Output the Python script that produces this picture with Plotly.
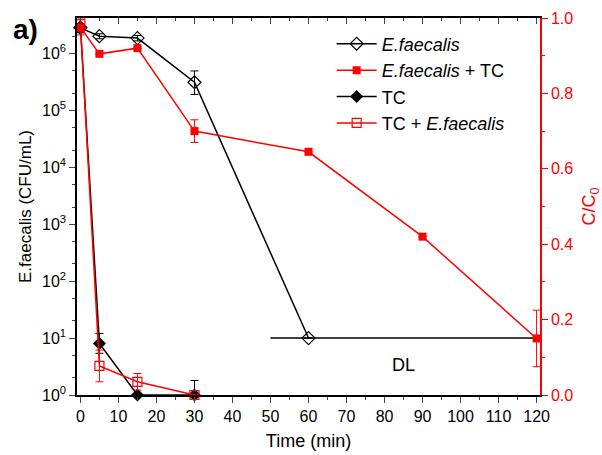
import plotly.graph_objects as go

# ---- data ----
t_ef = [0, 5, 15, 30, 60]
ef = [2.8e6, 2.0e6, 1.85e6, 3.1e5, 10]
ef_err_p = [5e5, 2e5, 2e5, 1.8e5, 0]
ef_err_m = [5e5, 2e5, 2e5, 1.2e5, 0]

t_tc = [0, 5, 15, 30]
tc = [2.9e6, 8, 1, 1]
tc_err_p = [1.5e6, 4, 0, 0.8]
tc_err_m = [5e5, 2.6, 0, 0]

t_eftc = [0, 5, 15, 30, 60, 90, 120]
eftc = [0.975, 0.905, 0.92, 0.70, 0.645, 0.42, 0.15]
eftc_err = [0.02, 0, 0, 0.03, 0, 0, 0.075]

t_tcef = [0, 5, 15, 30]
tcef = [0.985, 0.077, 0.035, 0.0]
tcef_err = [0.02, 0.042, 0.022, 0]

dl_t = [50, 120]
dl_v = [10, 10]

xticks = list(range(0, 121, 10))
ytick_vals = [1, 10, 100, 1e3, 1e4, 1e5, 1e6]
ytick_text = ["10<sup>%d</sup>" % i for i in range(7)]
y2_ticks = [0, 0.2, 0.4, 0.6, 0.8, 1.0]

FONT = "Liberation Sans, Arial, sans-serif"
RED = "#ff0000"

fig = go.Figure()

fig.add_trace(go.Scatter(x=dl_t, y=dl_v, mode="lines", line=dict(color="black", width=1.5),
                         showlegend=False, hoverinfo="skip"))

fig.add_trace(go.Scatter(
    x=t_ef, y=ef, mode="lines+markers", name="<i>E.faecalis</i>",
    line=dict(color="black", width=1.5),
    marker=dict(symbol="diamond-open", size=10, color="black", line=dict(width=1.2)),
    error_y=dict(type="data", array=ef_err_p, arrayminus=ef_err_m, color="black", thickness=1, width=4),
    cliponaxis=False))

fig.add_trace(go.Scatter(
    x=t_eftc, y=eftc, mode="lines+markers", name="<i>E.faecalis</i> + TC", yaxis="y2",
    line=dict(color=RED, width=1.5),
    marker=dict(symbol="square", size=8, color=RED),
    error_y=dict(type="data", array=eftc_err, color=RED, thickness=1, width=4),
    cliponaxis=False))

fig.add_trace(go.Scatter(
    x=t_tc, y=tc, mode="lines+markers", name="TC",
    line=dict(color="black", width=1.5),
    marker=dict(symbol="diamond", size=10, color="black"),
    error_y=dict(type="data", array=tc_err_p, arrayminus=tc_err_m, color="black", thickness=1, width=4),
    cliponaxis=False))

fig.add_trace(go.Scatter(
    x=t_tcef, y=tcef, mode="lines+markers", name="TC + <i>E.faecalis</i>", yaxis="y2",
    line=dict(color=RED, width=1.5),
    marker=dict(symbol="square-open", size=9, color=RED, line=dict(width=1.2)),
    error_y=dict(type="data", array=tcef_err, color=RED, thickness=1, width=4),
    cliponaxis=False))

# dummy trace for top axis
fig.add_trace(go.Scatter(x=[0], y=[1], xaxis="x2", mode="markers", marker=dict(opacity=0),
                         showlegend=False, hoverinfo="skip"))

fig.update_layout(
    width=602, height=455,
    margin=dict(l=77, r=62, t=18, b=60, autoexpand=False),
    paper_bgcolor="white", plot_bgcolor="white",
    font=dict(family=FONT, size=15, color="black"),
    showlegend=True,
    legend=dict(x=0.55, y=0.98, xanchor="left", yanchor="top", bgcolor="rgba(0,0,0,0)",
                font=dict(size=18), tracegroupgap=0, itemwidth=40),
    xaxis=dict(range=[-0.9, 120.9], tickvals=xticks, ticks="outside", ticklen=6, tickwidth=1.2,
               minor=dict(dtick=5, ticks="outside", ticklen=3, tickwidth=1.2),
               showline=True, linecolor="black", linewidth=1.5, showgrid=False, zeroline=False,
               title=dict(text="Time (min)", font=dict(size=18), standoff=10),
               tickfont=dict(size=16), automargin=False),
    xaxis2=dict(range=[-0.9, 120.9], overlaying="x", side="top", tickvals=xticks,
                ticks="inside", ticklen=6, tickwidth=1.2, showticklabels=False,
                minor=dict(dtick=5, ticks="inside", ticklen=3, tickwidth=1.2),
                showline=True, linecolor="black", linewidth=1.5, showgrid=False, zeroline=False,
                automargin=False),
    yaxis=dict(type="log", range=[0, 6.62], tickvals=ytick_vals, ticktext=ytick_text,
               ticks="outside", ticklen=6, tickwidth=1.2,
               minor=dict(ticks="outside", ticklen=3, tickwidth=1),
               showline=True, linecolor="black", linewidth=1.5, showgrid=False, zeroline=False,
               title=dict(text="E.faecalis (CFU/mL)", font=dict(size=17), standoff=6),
               tickfont=dict(size=16), automargin=False),
    yaxis2=dict(range=[0, 1], overlaying="y", side="right", tickvals=y2_ticks,
                tickformat=".1f", ticks="outside", ticklen=6, tickwidth=1.2,
                minor=dict(dtick=0.1, ticks="outside", ticklen=3, tickwidth=1.2),
                showline=True, linecolor=RED, linewidth=1.5, showgrid=False, zeroline=False,
                color=RED, tickfont=dict(size=16, color=RED), automargin=False,
                title=dict(text="C/C<sub>0</sub>", font=dict(size=18, color=RED), standoff=12)),
    annotations=[
        dict(text="<b>a)</b>", x=-0.142, y=1.015, xref="paper", yref="paper",
             xanchor="left", yanchor="top", showarrow=False, font=dict(size=28)),
        dict(text="DL", x=85, y=0.53, xref="x", yref="y", showarrow=False, font=dict(size=18)),
    ],
)

fig.write_html("out.html")
